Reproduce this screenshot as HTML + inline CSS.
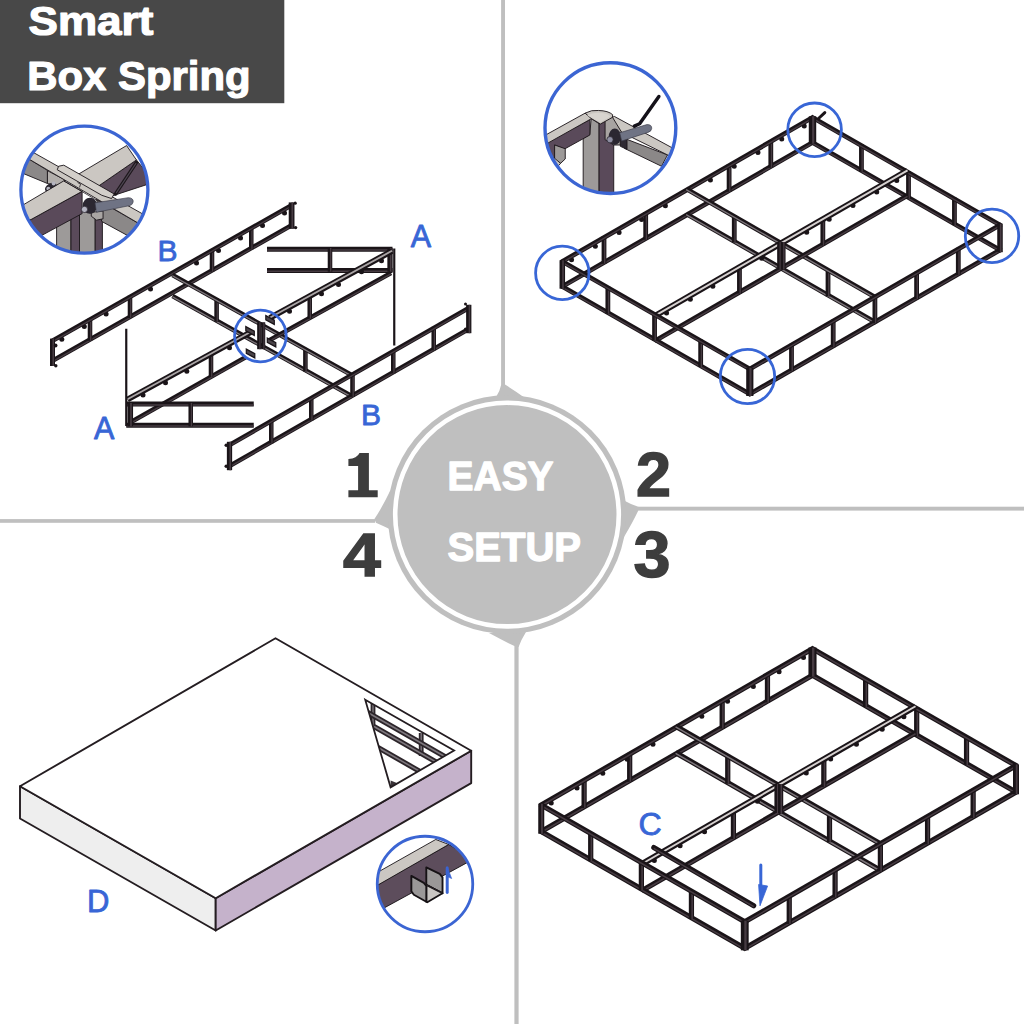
<!DOCTYPE html>
<html><head><meta charset="utf-8"><title>Smart Box Spring - Easy Setup</title>
<style>
html,body{margin:0;padding:0;background:#fff;}
body{width:1024px;height:1024px;overflow:hidden;font-family:"Liberation Sans",sans-serif;}
svg{display:block;}
</style></head><body>
<svg width="1024" height="1024" viewBox="0 0 1024 1024" font-family="'Liberation Sans', sans-serif">
<rect width="1024" height="1024" fill="#fff"/>
<g fill="#bfbfbf">
<rect x="501.1" y="0" width="3.9" height="386"/>
<rect x="638" y="506.7" width="386" height="3.9"/>
<rect x="514.4" y="646" width="4.2" height="378"/>
<rect x="0" y="519.1" width="375" height="3.7"/>
<path d="M501.1 385 Q500 391 496 397 L525 398 Q514 390 505 384.6 Z"/>
<path d="M638.3 506.7 Q631 504.5 625 501 L624 537 Q633 522 638.3 510.6 Z"/>
<path d="M514.4 646.1 Q502 640 489 633 L526 632 Q521 640 518.6 646.9 Z"/>
<path d="M374.4 519.1 Q383 506 390.5 490 L389.5 529 Q382 525.5 375.9 522.8 Z"/>
<circle cx="507" cy="514.6" r="119.3"/>
</g>
<circle cx="507" cy="514.6" r="111.8" fill="none" stroke="#fff" stroke-width="4.6"/>
<g fill="#fff" stroke="#fff" stroke-width="1.3" stroke-linejoin="round" font-weight="700" font-size="40.5">
<text x="447.6" y="489.8" textLength="106" lengthAdjust="spacingAndGlyphs">EASY</text>
<text x="447.5" y="561.3" textLength="133.6" lengthAdjust="spacingAndGlyphs">SETUP</text>
</g>
<rect x="0" y="0" width="284.3" height="103.2" fill="#484848"/>
<g fill="#fff" stroke="#fff" stroke-width="1.2" stroke-linejoin="round" font-weight="700" font-size="40.2">
<text x="28.6" y="35.3" font-size="41" textLength="124.8" lengthAdjust="spacingAndGlyphs">Smart</text>
<text x="27.2" y="89.5" font-size="41" textLength="223.4" lengthAdjust="spacingAndGlyphs">Box Spring</text>
</g>
<g fill="#3d3d3d" stroke="#3d3d3d" stroke-width="1.4" stroke-linejoin="miter" font-weight="700" font-size="61">
<text x="636.0" y="496.2" font-size="63" textLength="35" lengthAdjust="spacingAndGlyphs">2</text>
<text x="633.6" y="577.2" font-size="64" textLength="37" lengthAdjust="spacingAndGlyphs">3</text>
<text x="342.9" y="576.3" textLength="37.8" lengthAdjust="spacingAndGlyphs">4</text>
</g>
<path fill="#3d3d3d" d="M348.4 490.2 H358.1 V466 H348.4 V459 Q357 458.5 359.5 452.9 H368.9 V490.2 H377.7 V497.3 H348.4 Z"/>
<g id="f2">
<line x1="561" y1="287.25" x2="813.8" y2="141.75" stroke="#1a1418" stroke-width="4.8" stroke-linecap="butt"/>
<line x1="561" y1="288.05" x2="813.8" y2="142.55" stroke="#463b42" stroke-width="1.44" stroke-linecap="butt"/>
<line x1="604" y1="236.3" x2="604" y2="263.7" stroke="#1a1418" stroke-width="4.8" stroke-linecap="butt"/>
<line x1="604.7" y1="236.3" x2="604.7" y2="263.7" stroke="#463b42" stroke-width="1.44" stroke-linecap="butt"/>
<line x1="645.7" y1="212.3" x2="645.7" y2="239.7" stroke="#1a1418" stroke-width="4.8" stroke-linecap="butt"/>
<line x1="646.4" y1="212.3" x2="646.4" y2="239.7" stroke="#463b42" stroke-width="1.44" stroke-linecap="butt"/>
<line x1="729.1" y1="164.3" x2="729.1" y2="191.7" stroke="#1a1418" stroke-width="4.8" stroke-linecap="butt"/>
<line x1="729.8" y1="164.3" x2="729.8" y2="191.7" stroke="#463b42" stroke-width="1.44" stroke-linecap="butt"/>
<line x1="770.8" y1="140.3" x2="770.8" y2="167.7" stroke="#1a1418" stroke-width="4.8" stroke-linecap="butt"/>
<line x1="771.5" y1="140.3" x2="771.5" y2="167.7" stroke="#463b42" stroke-width="1.44" stroke-linecap="butt"/>
<circle cx="571.56" cy="259.86" r="2.5" fill="#1a1418"/>
<circle cx="595.33" cy="246.18" r="2.5" fill="#1a1418"/>
<circle cx="619.09" cy="232.5" r="2.5" fill="#1a1418"/>
<circle cx="641.61" cy="219.54" r="2.5" fill="#1a1418"/>
<circle cx="665.38" cy="205.86" r="2.5" fill="#1a1418"/>
<circle cx="710.42" cy="179.94" r="2.5" fill="#1a1418"/>
<circle cx="734.19" cy="166.26" r="2.5" fill="#1a1418"/>
<circle cx="757.96" cy="152.58" r="2.5" fill="#1a1418"/>
<circle cx="781.73" cy="138.9" r="2.5" fill="#1a1418"/>
<circle cx="804.24" cy="125.94" r="2.5" fill="#1a1418"/>
<line x1="561" y1="262.25" x2="813.8" y2="116.75" stroke="#1a1418" stroke-width="4.8" stroke-linecap="butt"/>
<line x1="561" y1="263.05" x2="813.8" y2="117.55" stroke="#463b42" stroke-width="1.44" stroke-linecap="butt"/>
<line x1="811.2" y1="141.75" x2="1001.3" y2="250.75" stroke="#1a1418" stroke-width="4.8" stroke-linecap="butt"/>
<line x1="811.2" y1="142.55" x2="1001.3" y2="251.55" stroke="#463b42" stroke-width="1.44" stroke-linecap="butt"/>
<line x1="861.44" y1="144.36" x2="861.44" y2="171.76" stroke="#1a1418" stroke-width="4.8" stroke-linecap="butt"/>
<line x1="862.14" y1="144.36" x2="862.14" y2="171.76" stroke="#463b42" stroke-width="1.44" stroke-linecap="butt"/>
<line x1="908.5" y1="171.34" x2="908.5" y2="198.74" stroke="#1a1418" stroke-width="4.8" stroke-linecap="butt"/>
<line x1="909.2" y1="171.34" x2="909.2" y2="198.74" stroke="#463b42" stroke-width="1.44" stroke-linecap="butt"/>
<line x1="954.44" y1="197.68" x2="954.44" y2="225.08" stroke="#1a1418" stroke-width="4.8" stroke-linecap="butt"/>
<line x1="955.14" y1="197.68" x2="955.14" y2="225.08" stroke="#463b42" stroke-width="1.44" stroke-linecap="butt"/>
<line x1="811.2" y1="116.75" x2="1001.3" y2="225.75" stroke="#1a1418" stroke-width="4.8" stroke-linecap="butt"/>
<line x1="811.2" y1="117.55" x2="1001.3" y2="226.55" stroke="#463b42" stroke-width="1.44" stroke-linecap="butt"/>
<line x1="686.1" y1="213.75" x2="876.2" y2="322.75" stroke="#1a1418" stroke-width="4.8" stroke-linecap="butt"/>
<line x1="686.1" y1="214.55" x2="876.2" y2="323.55" stroke="#7b7479" stroke-width="1.44" stroke-linecap="butt"/>
<line x1="734.27" y1="215.18" x2="734.27" y2="242.57" stroke="#1a1418" stroke-width="4.8" stroke-linecap="butt"/>
<line x1="734.98" y1="215.18" x2="734.98" y2="242.57" stroke="#463b42" stroke-width="1.44" stroke-linecap="butt"/>
<line x1="828.02" y1="268.93" x2="828.02" y2="296.32" stroke="#1a1418" stroke-width="4.8" stroke-linecap="butt"/>
<line x1="828.73" y1="268.93" x2="828.73" y2="296.32" stroke="#463b42" stroke-width="1.44" stroke-linecap="butt"/>
<line x1="686.1" y1="188.75" x2="876.2" y2="297.75" stroke="#1a1418" stroke-width="4.8" stroke-linecap="butt"/>
<line x1="686.1" y1="189.55" x2="876.2" y2="298.55" stroke="#7b7479" stroke-width="1.44" stroke-linecap="butt"/>
<line x1="654.75" y1="341" x2="907.55" y2="195.5" stroke="#1a1418" stroke-width="4.8" stroke-linecap="butt"/>
<line x1="654.75" y1="341.8" x2="907.55" y2="196.3" stroke="#463b42" stroke-width="1.44" stroke-linecap="butt"/>
<line x1="739.45" y1="266.05" x2="739.45" y2="293.45" stroke="#1a1418" stroke-width="4.8" stroke-linecap="butt"/>
<line x1="740.15" y1="266.05" x2="740.15" y2="293.45" stroke="#463b42" stroke-width="1.44" stroke-linecap="butt"/>
<line x1="822.85" y1="218.05" x2="822.85" y2="245.45" stroke="#1a1418" stroke-width="4.8" stroke-linecap="butt"/>
<line x1="823.55" y1="218.05" x2="823.55" y2="245.45" stroke="#463b42" stroke-width="1.44" stroke-linecap="butt"/>
<circle cx="666.56" cy="312.89" r="2.5" fill="#1a1418"/>
<circle cx="690.33" cy="299.21" r="2.5" fill="#1a1418"/>
<circle cx="712.84" cy="286.25" r="2.5" fill="#1a1418"/>
<circle cx="761.63" cy="258.17" r="2.5" fill="#1a1418"/>
<circle cx="806.67" cy="232.25" r="2.5" fill="#1a1418"/>
<circle cx="829.19" cy="219.29" r="2.5" fill="#1a1418"/>
<circle cx="852.96" cy="205.61" r="2.5" fill="#1a1418"/>
<circle cx="876.73" cy="191.93" r="2.5" fill="#1a1418"/>
<circle cx="896.74" cy="180.41" r="2.5" fill="#1a1418"/>
<line x1="654.75" y1="316" x2="907.55" y2="170.5" stroke="#1a1418" stroke-width="6.05" stroke-linecap="butt"/>
<line x1="654.75" y1="315.8" x2="907.55" y2="170.3" stroke="#d6d1d0" stroke-width="1.94" stroke-linecap="butt"/>
<line x1="779.55" y1="242.05" x2="779.55" y2="269.45" stroke="#1a1418" stroke-width="4.8" stroke-linecap="butt"/>
<line x1="780.25" y1="242.05" x2="780.25" y2="269.45" stroke="#463b42" stroke-width="1.44" stroke-linecap="butt"/>
<line x1="783.15" y1="242.05" x2="783.15" y2="269.45" stroke="#1a1418" stroke-width="4.8" stroke-linecap="butt"/>
<line x1="783.85" y1="242.05" x2="783.85" y2="269.45" stroke="#463b42" stroke-width="1.44" stroke-linecap="butt"/>
<line x1="561" y1="285.75" x2="751.1" y2="394.75" stroke="#1a1418" stroke-width="4.8" stroke-linecap="butt"/>
<line x1="561" y1="286.55" x2="751.1" y2="395.55" stroke="#463b42" stroke-width="1.44" stroke-linecap="butt"/>
<line x1="607.86" y1="286.42" x2="607.86" y2="313.82" stroke="#1a1418" stroke-width="4.8" stroke-linecap="butt"/>
<line x1="608.56" y1="286.42" x2="608.56" y2="313.82" stroke="#463b42" stroke-width="1.44" stroke-linecap="butt"/>
<line x1="654.55" y1="313.19" x2="654.55" y2="340.59" stroke="#1a1418" stroke-width="4.8" stroke-linecap="butt"/>
<line x1="655.25" y1="313.19" x2="655.25" y2="340.59" stroke="#463b42" stroke-width="1.44" stroke-linecap="butt"/>
<line x1="700.67" y1="339.63" x2="700.67" y2="367.03" stroke="#1a1418" stroke-width="4.8" stroke-linecap="butt"/>
<line x1="701.38" y1="339.63" x2="701.38" y2="367.03" stroke="#463b42" stroke-width="1.44" stroke-linecap="butt"/>
<line x1="561" y1="260.75" x2="751.1" y2="369.75" stroke="#1a1418" stroke-width="4.8" stroke-linecap="butt"/>
<line x1="561" y1="261.55" x2="751.1" y2="370.55" stroke="#463b42" stroke-width="1.44" stroke-linecap="butt"/>
<line x1="748.5" y1="394.75" x2="1001.3" y2="249.25" stroke="#1a1418" stroke-width="4.8" stroke-linecap="butt"/>
<line x1="748.5" y1="395.55" x2="1001.3" y2="250.05" stroke="#463b42" stroke-width="1.44" stroke-linecap="butt"/>
<line x1="791.5" y1="343.8" x2="791.5" y2="371.2" stroke="#1a1418" stroke-width="4.8" stroke-linecap="butt"/>
<line x1="792.2" y1="343.8" x2="792.2" y2="371.2" stroke="#463b42" stroke-width="1.44" stroke-linecap="butt"/>
<line x1="833.2" y1="319.8" x2="833.2" y2="347.2" stroke="#1a1418" stroke-width="4.8" stroke-linecap="butt"/>
<line x1="833.9" y1="319.8" x2="833.9" y2="347.2" stroke="#463b42" stroke-width="1.44" stroke-linecap="butt"/>
<line x1="874.9" y1="295.8" x2="874.9" y2="323.2" stroke="#1a1418" stroke-width="4.8" stroke-linecap="butt"/>
<line x1="875.6" y1="295.8" x2="875.6" y2="323.2" stroke="#463b42" stroke-width="1.44" stroke-linecap="butt"/>
<line x1="916.6" y1="271.8" x2="916.6" y2="299.2" stroke="#1a1418" stroke-width="4.8" stroke-linecap="butt"/>
<line x1="917.3" y1="271.8" x2="917.3" y2="299.2" stroke="#463b42" stroke-width="1.44" stroke-linecap="butt"/>
<line x1="958.3" y1="247.8" x2="958.3" y2="275.2" stroke="#1a1418" stroke-width="4.8" stroke-linecap="butt"/>
<line x1="959" y1="247.8" x2="959" y2="275.2" stroke="#463b42" stroke-width="1.44" stroke-linecap="butt"/>
<line x1="748.5" y1="369.75" x2="1001.3" y2="224.25" stroke="#1a1418" stroke-width="4.8" stroke-linecap="butt"/>
<line x1="748.5" y1="370.55" x2="1001.3" y2="225.05" stroke="#463b42" stroke-width="1.44" stroke-linecap="butt"/>
<line x1="562.3" y1="260.3" x2="562.3" y2="288.7" stroke="#1a1418" stroke-width="5.52" stroke-linecap="butt"/>
<line x1="563" y1="260.3" x2="563" y2="288.7" stroke="#463b42" stroke-width="1.66" stroke-linecap="butt"/>
<line x1="812.5" y1="116.3" x2="812.5" y2="143.7" stroke="#1a1418" stroke-width="7.44" stroke-linecap="butt"/>
<line x1="813.2" y1="116.3" x2="813.2" y2="143.7" stroke="#463b42" stroke-width="2.23" stroke-linecap="butt"/>
<line x1="1000" y1="223.8" x2="1000" y2="252.2" stroke="#1a1418" stroke-width="5.52" stroke-linecap="butt"/>
<line x1="1000.7" y1="223.8" x2="1000.7" y2="252.2" stroke="#463b42" stroke-width="1.66" stroke-linecap="butt"/>
<line x1="749.8" y1="367.8" x2="749.8" y2="396" stroke="#1a1418" stroke-width="7.2" stroke-linecap="butt"/>
<line x1="750.5" y1="367.8" x2="750.5" y2="396" stroke="#463b42" stroke-width="2.16" stroke-linecap="butt"/>
<line x1="818.5" y1="118.5" x2="824.8" y2="112.6" stroke="#1a1418" stroke-width="3" stroke-linecap="round"/>
</g>
<circle cx="562.3" cy="272.9" r="26.7" fill="none" stroke="#3866d6" stroke-width="2.8"/>
<circle cx="814.6" cy="129.8" r="26.8" fill="none" stroke="#3866d6" stroke-width="2.8"/>
<circle cx="992" cy="235.9" r="26.7" fill="none" stroke="#3866d6" stroke-width="2.8"/>
<circle cx="747.5" cy="376.5" r="27.2" fill="none" stroke="#3866d6" stroke-width="2.8"/>
<g id="f3">
<line x1="539.95" y1="832.25" x2="813.8" y2="674.5" stroke="#1a1418" stroke-width="5.23" stroke-linecap="butt"/>
<line x1="539.95" y1="833.05" x2="813.8" y2="675.3" stroke="#463b42" stroke-width="1.57" stroke-linecap="butt"/>
<line x1="584.11" y1="779.11" x2="584.11" y2="808.01" stroke="#1a1418" stroke-width="5.23" stroke-linecap="butt"/>
<line x1="584.81" y1="779.11" x2="584.81" y2="808.01" stroke="#463b42" stroke-width="1.57" stroke-linecap="butt"/>
<line x1="629.68" y1="752.86" x2="629.68" y2="781.76" stroke="#1a1418" stroke-width="5.23" stroke-linecap="butt"/>
<line x1="630.38" y1="752.86" x2="630.38" y2="781.76" stroke="#463b42" stroke-width="1.57" stroke-linecap="butt"/>
<line x1="722.17" y1="699.58" x2="722.17" y2="728.48" stroke="#1a1418" stroke-width="5.23" stroke-linecap="butt"/>
<line x1="722.87" y1="699.58" x2="722.87" y2="728.48" stroke="#463b42" stroke-width="1.57" stroke-linecap="butt"/>
<line x1="767.47" y1="673.49" x2="767.47" y2="702.39" stroke="#1a1418" stroke-width="5.23" stroke-linecap="butt"/>
<line x1="768.17" y1="673.49" x2="768.17" y2="702.39" stroke="#463b42" stroke-width="1.57" stroke-linecap="butt"/>
<circle cx="551.24" cy="802.93" r="2.5" fill="#1a1418"/>
<circle cx="577.01" cy="788.09" r="2.5" fill="#1a1418"/>
<circle cx="602.78" cy="773.24" r="2.5" fill="#1a1418"/>
<circle cx="627.19" cy="759.18" r="2.5" fill="#1a1418"/>
<circle cx="652.96" cy="744.34" r="2.5" fill="#1a1418"/>
<circle cx="701.79" cy="716.21" r="2.5" fill="#1a1418"/>
<circle cx="727.56" cy="701.37" r="2.5" fill="#1a1418"/>
<circle cx="753.33" cy="686.52" r="2.5" fill="#1a1418"/>
<circle cx="779.09" cy="671.68" r="2.5" fill="#1a1418"/>
<circle cx="803.51" cy="657.62" r="2.5" fill="#1a1418"/>
<line x1="539.95" y1="805.75" x2="813.8" y2="648" stroke="#1a1418" stroke-width="5.23" stroke-linecap="butt"/>
<line x1="539.95" y1="806.55" x2="813.8" y2="648.8" stroke="#463b42" stroke-width="1.57" stroke-linecap="butt"/>
<line x1="811.2" y1="674.5" x2="1017.3" y2="792.85" stroke="#1a1418" stroke-width="5.23" stroke-linecap="butt"/>
<line x1="811.2" y1="675.3" x2="1017.3" y2="793.65" stroke="#463b42" stroke-width="1.57" stroke-linecap="butt"/>
<line x1="865.61" y1="678.05" x2="865.61" y2="706.95" stroke="#1a1418" stroke-width="5.23" stroke-linecap="butt"/>
<line x1="866.31" y1="678.05" x2="866.31" y2="706.95" stroke="#463b42" stroke-width="1.57" stroke-linecap="butt"/>
<line x1="916.69" y1="707.38" x2="916.69" y2="736.28" stroke="#1a1418" stroke-width="5.23" stroke-linecap="butt"/>
<line x1="917.39" y1="707.38" x2="917.39" y2="736.28" stroke="#463b42" stroke-width="1.57" stroke-linecap="butt"/>
<line x1="966.55" y1="736.01" x2="966.55" y2="764.91" stroke="#1a1418" stroke-width="5.23" stroke-linecap="butt"/>
<line x1="967.25" y1="736.01" x2="967.25" y2="764.91" stroke="#463b42" stroke-width="1.57" stroke-linecap="butt"/>
<line x1="811.2" y1="648" x2="1017.3" y2="766.35" stroke="#1a1418" stroke-width="5.23" stroke-linecap="butt"/>
<line x1="811.2" y1="648.8" x2="1017.3" y2="767.15" stroke="#463b42" stroke-width="1.57" stroke-linecap="butt"/>
<line x1="675.57" y1="752.63" x2="881.68" y2="870.97" stroke="#1a1418" stroke-width="5.23" stroke-linecap="butt"/>
<line x1="675.57" y1="753.43" x2="881.68" y2="871.77" stroke="#7b7479" stroke-width="1.57" stroke-linecap="butt"/>
<line x1="727.75" y1="754.89" x2="727.75" y2="783.79" stroke="#1a1418" stroke-width="5.23" stroke-linecap="butt"/>
<line x1="728.45" y1="754.89" x2="728.45" y2="783.79" stroke="#463b42" stroke-width="1.57" stroke-linecap="butt"/>
<line x1="829.5" y1="813.31" x2="829.5" y2="842.21" stroke="#1a1418" stroke-width="5.23" stroke-linecap="butt"/>
<line x1="830.2" y1="813.31" x2="830.2" y2="842.21" stroke="#463b42" stroke-width="1.57" stroke-linecap="butt"/>
<line x1="675.57" y1="726.13" x2="881.68" y2="844.47" stroke="#1a1418" stroke-width="5.23" stroke-linecap="butt"/>
<line x1="675.57" y1="726.93" x2="881.68" y2="845.27" stroke="#7b7479" stroke-width="1.57" stroke-linecap="butt"/>
<line x1="641.7" y1="890.67" x2="915.55" y2="732.93" stroke="#1a1418" stroke-width="5.23" stroke-linecap="butt"/>
<line x1="641.7" y1="891.47" x2="915.55" y2="733.73" stroke="#463b42" stroke-width="1.57" stroke-linecap="butt"/>
<line x1="733.42" y1="810.14" x2="733.42" y2="839.04" stroke="#1a1418" stroke-width="5.23" stroke-linecap="butt"/>
<line x1="734.12" y1="810.14" x2="734.12" y2="839.04" stroke="#463b42" stroke-width="1.57" stroke-linecap="butt"/>
<line x1="823.83" y1="758.06" x2="823.83" y2="786.96" stroke="#1a1418" stroke-width="5.23" stroke-linecap="butt"/>
<line x1="824.53" y1="758.06" x2="824.53" y2="786.96" stroke="#463b42" stroke-width="1.57" stroke-linecap="butt"/>
<circle cx="654.35" cy="860.57" r="2.5" fill="#1a1418"/>
<circle cx="680.12" cy="845.73" r="2.5" fill="#1a1418"/>
<circle cx="704.53" cy="831.67" r="2.5" fill="#1a1418"/>
<circle cx="757.42" cy="801.2" r="2.5" fill="#1a1418"/>
<circle cx="806.25" cy="773.07" r="2.5" fill="#1a1418"/>
<circle cx="830.66" cy="759.01" r="2.5" fill="#1a1418"/>
<circle cx="856.43" cy="744.17" r="2.5" fill="#1a1418"/>
<circle cx="882.2" cy="729.32" r="2.5" fill="#1a1418"/>
<circle cx="903.9" cy="716.82" r="2.5" fill="#1a1418"/>
<line x1="641.7" y1="864.17" x2="915.55" y2="706.43" stroke="#1a1418" stroke-width="6.05" stroke-linecap="butt"/>
<line x1="641.7" y1="863.97" x2="915.55" y2="706.23" stroke="#d6d1d0" stroke-width="1.94" stroke-linecap="butt"/>
<line x1="777.02" y1="784.1" x2="777.02" y2="813" stroke="#1a1418" stroke-width="5.23" stroke-linecap="butt"/>
<line x1="777.73" y1="784.1" x2="777.73" y2="813" stroke="#463b42" stroke-width="1.57" stroke-linecap="butt"/>
<line x1="780.62" y1="784.1" x2="780.62" y2="813" stroke="#1a1418" stroke-width="5.23" stroke-linecap="butt"/>
<line x1="781.33" y1="784.1" x2="781.33" y2="813" stroke="#463b42" stroke-width="1.57" stroke-linecap="butt"/>
<line x1="539.95" y1="830.75" x2="746.05" y2="949.1" stroke="#1a1418" stroke-width="5.23" stroke-linecap="butt"/>
<line x1="539.95" y1="831.55" x2="746.05" y2="949.9" stroke="#463b42" stroke-width="1.57" stroke-linecap="butt"/>
<line x1="590.7" y1="832.19" x2="590.7" y2="861.09" stroke="#1a1418" stroke-width="5.23" stroke-linecap="butt"/>
<line x1="591.4" y1="832.19" x2="591.4" y2="861.09" stroke="#463b42" stroke-width="1.57" stroke-linecap="butt"/>
<line x1="641.37" y1="861.29" x2="641.37" y2="890.19" stroke="#1a1418" stroke-width="5.23" stroke-linecap="butt"/>
<line x1="642.07" y1="861.29" x2="642.07" y2="890.19" stroke="#463b42" stroke-width="1.57" stroke-linecap="butt"/>
<line x1="691.43" y1="890.04" x2="691.43" y2="918.94" stroke="#1a1418" stroke-width="5.23" stroke-linecap="butt"/>
<line x1="692.13" y1="890.04" x2="692.13" y2="918.94" stroke="#463b42" stroke-width="1.57" stroke-linecap="butt"/>
<line x1="539.95" y1="804.25" x2="746.05" y2="922.6" stroke="#1a1418" stroke-width="5.23" stroke-linecap="butt"/>
<line x1="539.95" y1="805.05" x2="746.05" y2="923.4" stroke="#463b42" stroke-width="1.57" stroke-linecap="butt"/>
<line x1="743.45" y1="949.1" x2="1017.3" y2="791.35" stroke="#1a1418" stroke-width="5.23" stroke-linecap="butt"/>
<line x1="743.45" y1="949.9" x2="1017.3" y2="792.15" stroke="#463b42" stroke-width="1.57" stroke-linecap="butt"/>
<line x1="789.24" y1="895.02" x2="789.24" y2="923.93" stroke="#1a1418" stroke-width="5.23" stroke-linecap="butt"/>
<line x1="789.94" y1="895.02" x2="789.94" y2="923.93" stroke="#463b42" stroke-width="1.57" stroke-linecap="butt"/>
<line x1="835.08" y1="868.62" x2="835.08" y2="897.52" stroke="#1a1418" stroke-width="5.23" stroke-linecap="butt"/>
<line x1="835.78" y1="868.62" x2="835.78" y2="897.52" stroke="#463b42" stroke-width="1.57" stroke-linecap="butt"/>
<line x1="880.38" y1="842.52" x2="880.38" y2="871.43" stroke="#1a1418" stroke-width="5.23" stroke-linecap="butt"/>
<line x1="881.08" y1="842.52" x2="881.08" y2="871.43" stroke="#463b42" stroke-width="1.57" stroke-linecap="butt"/>
<line x1="927.57" y1="815.34" x2="927.57" y2="844.24" stroke="#1a1418" stroke-width="5.23" stroke-linecap="butt"/>
<line x1="928.27" y1="815.34" x2="928.27" y2="844.24" stroke="#463b42" stroke-width="1.57" stroke-linecap="butt"/>
<line x1="973.14" y1="789.09" x2="973.14" y2="817.99" stroke="#1a1418" stroke-width="5.23" stroke-linecap="butt"/>
<line x1="973.84" y1="789.09" x2="973.84" y2="817.99" stroke="#463b42" stroke-width="1.57" stroke-linecap="butt"/>
<line x1="743.45" y1="922.6" x2="1017.3" y2="764.85" stroke="#1a1418" stroke-width="5.23" stroke-linecap="butt"/>
<line x1="743.45" y1="923.4" x2="1017.3" y2="765.65" stroke="#463b42" stroke-width="1.57" stroke-linecap="butt"/>
<line x1="541.25" y1="803.8" x2="541.25" y2="833.7" stroke="#1a1418" stroke-width="6.02" stroke-linecap="butt"/>
<line x1="541.95" y1="803.8" x2="541.95" y2="833.7" stroke="#463b42" stroke-width="1.81" stroke-linecap="butt"/>
<line x1="812.5" y1="647.55" x2="812.5" y2="676.45" stroke="#1a1418" stroke-width="8.11" stroke-linecap="butt"/>
<line x1="813.2" y1="647.55" x2="813.2" y2="676.45" stroke="#463b42" stroke-width="2.43" stroke-linecap="butt"/>
<line x1="1016" y1="764.4" x2="1016" y2="794.3" stroke="#1a1418" stroke-width="6.02" stroke-linecap="butt"/>
<line x1="1016.7" y1="764.4" x2="1016.7" y2="794.3" stroke="#463b42" stroke-width="1.81" stroke-linecap="butt"/>
<line x1="744.75" y1="920.65" x2="744.75" y2="950.35" stroke="#1a1418" stroke-width="7.85" stroke-linecap="butt"/>
<line x1="745.45" y1="920.65" x2="745.45" y2="950.35" stroke="#463b42" stroke-width="2.35" stroke-linecap="butt"/>
<line x1="653.75" y1="847.5" x2="753.75" y2="905.75" stroke="#1a1418" stroke-width="5.04" stroke-linecap="round"/>
<line x1="653.75" y1="848.3" x2="753.75" y2="906.55" stroke="#463b42" stroke-width="1.51" stroke-linecap="butt"/>
</g>
<path d="M760.8 865 V889" stroke="#3866d6" stroke-width="3.0" fill="none" stroke-linecap="round"/>
<path d="M758.6 884.5 L767.6 886 L760 905.8 Z" fill="#3866d6" stroke="#3866d6" stroke-width="0.8" stroke-linejoin="round"/>
<text x="650" y="835.4" font-size="32.2" fill="#3866d6" stroke="#3866d6" stroke-width="0.8" stroke-linejoin="round" text-anchor="middle">C</text>
<g id="f1">
<line x1="52.5" y1="360.8" x2="292.5" y2="224.8" stroke="#1a1418" stroke-width="4.56" stroke-linecap="butt"/>
<line x1="52.5" y1="361.6" x2="292.5" y2="225.6" stroke="#463b42" stroke-width="1.37" stroke-linecap="butt"/>
<line x1="90" y1="318.35" x2="90" y2="340.75" stroke="#1a1418" stroke-width="4.56" stroke-linecap="butt"/>
<line x1="90.7" y1="318.35" x2="90.7" y2="340.75" stroke="#463b42" stroke-width="1.37" stroke-linecap="butt"/>
<line x1="130" y1="295.68" x2="130" y2="318.08" stroke="#1a1418" stroke-width="4.56" stroke-linecap="butt"/>
<line x1="130.7" y1="295.68" x2="130.7" y2="318.08" stroke="#463b42" stroke-width="1.37" stroke-linecap="butt"/>
<line x1="212" y1="249.22" x2="212" y2="271.62" stroke="#1a1418" stroke-width="4.56" stroke-linecap="butt"/>
<line x1="212.7" y1="249.22" x2="212.7" y2="271.62" stroke="#463b42" stroke-width="1.37" stroke-linecap="butt"/>
<line x1="251.25" y1="226.98" x2="251.25" y2="249.38" stroke="#1a1418" stroke-width="4.56" stroke-linecap="butt"/>
<line x1="251.95" y1="226.98" x2="251.95" y2="249.38" stroke="#463b42" stroke-width="1.37" stroke-linecap="butt"/>
<circle cx="61.8" cy="339.21" r="2.5" fill="#1a1418"/>
<circle cx="84.3" cy="326.46" r="2.5" fill="#1a1418"/>
<circle cx="106.1" cy="314.11" r="2.5" fill="#1a1418"/>
<circle cx="150.5" cy="288.95" r="2.5" fill="#1a1418"/>
<circle cx="196.5" cy="262.88" r="2.5" fill="#1a1418"/>
<circle cx="218.5" cy="250.42" r="2.5" fill="#1a1418"/>
<circle cx="240.5" cy="237.95" r="2.5" fill="#1a1418"/>
<circle cx="262.5" cy="225.48" r="2.5" fill="#1a1418"/>
<circle cx="284.5" cy="213.02" r="2.5" fill="#1a1418"/>
<line x1="52.5" y1="340.8" x2="292.5" y2="204.8" stroke="#1a1418" stroke-width="4.56" stroke-linecap="butt"/>
<line x1="52.5" y1="341.6" x2="292.5" y2="205.6" stroke="#463b42" stroke-width="1.37" stroke-linecap="butt"/>
<line x1="52.5" y1="338.6" x2="52.5" y2="366" stroke="#1a1418" stroke-width="5.04" stroke-linecap="butt"/>
<line x1="53.2" y1="338.6" x2="53.2" y2="366" stroke="#463b42" stroke-width="1.51" stroke-linecap="butt"/>
<line x1="291.6" y1="202.4" x2="291.6" y2="228.8" stroke="#1a1418" stroke-width="5.76" stroke-linecap="butt"/>
<line x1="292.3" y1="202.4" x2="292.3" y2="228.8" stroke="#463b42" stroke-width="1.73" stroke-linecap="butt"/>
<circle cx="55.8" cy="365.8" r="1.7" fill="#1a1418"/>
<circle cx="295.6" cy="227.6" r="1.7" fill="#1a1418"/>
<circle cx="295.2" cy="203.2" r="1.6" fill="#1a1418"/>
<circle cx="55.6" cy="345.5" r="1.9" fill="#1a1418"/>
<line x1="267" y1="249.25" x2="392.5" y2="249.25" stroke="#1a1418" stroke-width="5.04" stroke-linecap="butt"/>
<line x1="267" y1="250.05" x2="392.5" y2="250.05" stroke="#463b42" stroke-width="1.51" stroke-linecap="butt"/>
<line x1="267" y1="270.5" x2="392.5" y2="270.5" stroke="#1a1418" stroke-width="5.04" stroke-linecap="butt"/>
<line x1="267" y1="271.3" x2="392.5" y2="271.3" stroke="#463b42" stroke-width="1.51" stroke-linecap="butt"/>
<line x1="330" y1="248.05" x2="330" y2="271.7" stroke="#1a1418" stroke-width="4.56" stroke-linecap="butt"/>
<line x1="330.7" y1="248.05" x2="330.7" y2="271.7" stroke="#463b42" stroke-width="1.37" stroke-linecap="butt"/>
<line x1="390" y1="248.05" x2="390" y2="271.7" stroke="#1a1418" stroke-width="5.28" stroke-linecap="butt"/>
<line x1="390.7" y1="248.05" x2="390.7" y2="271.7" stroke="#463b42" stroke-width="1.58" stroke-linecap="butt"/>
<line x1="394.25" y1="248.5" x2="394.25" y2="345.5" stroke="#1a1418" stroke-width="2.2" stroke-linecap="butt"/>
<line x1="172.5" y1="296" x2="352.5" y2="396.5" stroke="#1a1418" stroke-width="4.56" stroke-linecap="butt"/>
<line x1="172.5" y1="296.8" x2="352.5" y2="397.3" stroke="#7b7479" stroke-width="1.37" stroke-linecap="butt"/>
<line x1="216.6" y1="298.42" x2="216.6" y2="321.82" stroke="#1a1418" stroke-width="4.56" stroke-linecap="butt"/>
<line x1="217.3" y1="298.42" x2="217.3" y2="321.82" stroke="#463b42" stroke-width="1.37" stroke-linecap="butt"/>
<line x1="305.4" y1="348" x2="305.4" y2="371.4" stroke="#1a1418" stroke-width="4.56" stroke-linecap="butt"/>
<line x1="306.1" y1="348" x2="306.1" y2="371.4" stroke="#463b42" stroke-width="1.37" stroke-linecap="butt"/>
<line x1="172.5" y1="275" x2="352.5" y2="375.5" stroke="#1a1418" stroke-width="4.56" stroke-linecap="butt"/>
<line x1="172.5" y1="275.8" x2="352.5" y2="376.3" stroke="#7b7479" stroke-width="1.37" stroke-linecap="butt"/>
<line x1="131" y1="422" x2="246" y2="357" stroke="#1a1418" stroke-width="4.56" stroke-linecap="butt"/>
<line x1="131" y1="422.8" x2="246" y2="357.8" stroke="#463b42" stroke-width="1.37" stroke-linecap="butt"/>
<line x1="211" y1="353.3" x2="211" y2="376.7" stroke="#1a1418" stroke-width="4.56" stroke-linecap="butt"/>
<line x1="211.7" y1="353.3" x2="211.7" y2="376.7" stroke="#463b42" stroke-width="1.37" stroke-linecap="butt"/>
<circle cx="143" cy="395.1" r="2.5" fill="#1a1418"/>
<circle cx="165.5" cy="382.8" r="2.5" fill="#1a1418"/>
<circle cx="186.8" cy="371.16" r="2.5" fill="#1a1418"/>
<circle cx="229.5" cy="347.82" r="2.5" fill="#1a1418"/>
<line x1="127.5" y1="399.5" x2="251" y2="332" stroke="#1a1418" stroke-width="5.82" stroke-linecap="butt"/>
<line x1="127.5" y1="399.3" x2="251" y2="331.8" stroke="#aaa5a6" stroke-width="1.86" stroke-linecap="butt"/>
<line x1="268" y1="341" x2="391" y2="273" stroke="#1a1418" stroke-width="4.56" stroke-linecap="butt"/>
<line x1="268" y1="341.8" x2="391" y2="273.8" stroke="#463b42" stroke-width="1.37" stroke-linecap="butt"/>
<line x1="309.75" y1="296.3" x2="309.75" y2="318.7" stroke="#1a1418" stroke-width="4.56" stroke-linecap="butt"/>
<line x1="310.45" y1="296.3" x2="310.45" y2="318.7" stroke="#463b42" stroke-width="1.37" stroke-linecap="butt"/>
<circle cx="289.5" cy="311.25" r="2.5" fill="#1a1418"/>
<circle cx="321.5" cy="293.72" r="2.5" fill="#1a1418"/>
<circle cx="338.5" cy="284.4" r="2.5" fill="#1a1418"/>
<circle cx="361.5" cy="271.8" r="2.5" fill="#1a1418"/>
<circle cx="381.5" cy="260.83" r="2.5" fill="#1a1418"/>
<line x1="269.75" y1="318" x2="392" y2="251" stroke="#1a1418" stroke-width="5.82" stroke-linecap="butt"/>
<line x1="269.75" y1="317.8" x2="392" y2="250.8" stroke="#aaa5a6" stroke-width="1.86" stroke-linecap="butt"/>
<line x1="259.2" y1="322.3" x2="259.2" y2="349.2" stroke="#1a1418" stroke-width="4.08" stroke-linecap="butt"/>
<line x1="259.9" y1="322.3" x2="259.9" y2="349.2" stroke="#463b42" stroke-width="1.22" stroke-linecap="butt"/>
<line x1="263.2" y1="322.3" x2="263.2" y2="349.2" stroke="#1a1418" stroke-width="4.08" stroke-linecap="butt"/>
<line x1="263.9" y1="322.3" x2="263.9" y2="349.2" stroke="#463b42" stroke-width="1.22" stroke-linecap="butt"/>
<path d="M265.8 315.6 l8.5 4.6 v4.2 l-8.5 -4.6 z" fill="#4a4348" stroke="#1a1418" stroke-width="1.2"/>
<path d="M245.8 326.6 l8.5 4.6 v4.2 l-8.5 -4.6 z" fill="#4a4348" stroke="#1a1418" stroke-width="1.2"/>
<path d="M267.3 338.1 l8.5 4.6 v4.2 l-8.5 -4.6 z" fill="#4a4348" stroke="#1a1418" stroke-width="1.2"/>
<path d="M246.3 349.1 l8.5 4.6 v4.2 l-8.5 -4.6 z" fill="#4a4348" stroke="#1a1418" stroke-width="1.2"/>
<line x1="126.25" y1="404.1" x2="253.75" y2="404.1" stroke="#1a1418" stroke-width="5.04" stroke-linecap="butt"/>
<line x1="126.25" y1="404.9" x2="253.75" y2="404.9" stroke="#463b42" stroke-width="1.51" stroke-linecap="butt"/>
<line x1="126.25" y1="425.2" x2="253.75" y2="425.2" stroke="#1a1418" stroke-width="5.04" stroke-linecap="butt"/>
<line x1="126.25" y1="426" x2="253.75" y2="426" stroke="#463b42" stroke-width="1.51" stroke-linecap="butt"/>
<line x1="190.75" y1="402.9" x2="190.75" y2="426.3" stroke="#1a1418" stroke-width="4.56" stroke-linecap="butt"/>
<line x1="191.45" y1="402.9" x2="191.45" y2="426.3" stroke="#463b42" stroke-width="1.37" stroke-linecap="butt"/>
<line x1="130.3" y1="402.9" x2="130.3" y2="426.3" stroke="#1a1418" stroke-width="5.52" stroke-linecap="butt"/>
<line x1="131" y1="402.9" x2="131" y2="426.3" stroke="#463b42" stroke-width="1.66" stroke-linecap="butt"/>
<line x1="126.25" y1="328.75" x2="126.25" y2="426" stroke="#1a1418" stroke-width="2.2" stroke-linecap="butt"/>
<line x1="229.5" y1="466" x2="468.75" y2="329" stroke="#1a1418" stroke-width="4.56" stroke-linecap="butt"/>
<line x1="229.5" y1="466.8" x2="468.75" y2="329.8" stroke="#463b42" stroke-width="1.37" stroke-linecap="butt"/>
<line x1="271.25" y1="419.89" x2="271.25" y2="443.29" stroke="#1a1418" stroke-width="4.56" stroke-linecap="butt"/>
<line x1="271.95" y1="419.89" x2="271.95" y2="443.29" stroke="#463b42" stroke-width="1.37" stroke-linecap="butt"/>
<line x1="311.25" y1="396.99" x2="311.25" y2="420.39" stroke="#1a1418" stroke-width="4.56" stroke-linecap="butt"/>
<line x1="311.95" y1="396.99" x2="311.95" y2="420.39" stroke="#463b42" stroke-width="1.37" stroke-linecap="butt"/>
<line x1="352.5" y1="373.37" x2="352.5" y2="396.77" stroke="#1a1418" stroke-width="4.56" stroke-linecap="butt"/>
<line x1="353.2" y1="373.37" x2="353.2" y2="396.77" stroke="#463b42" stroke-width="1.37" stroke-linecap="butt"/>
<line x1="393.25" y1="350.03" x2="393.25" y2="373.43" stroke="#1a1418" stroke-width="4.56" stroke-linecap="butt"/>
<line x1="393.95" y1="350.03" x2="393.95" y2="373.43" stroke="#463b42" stroke-width="1.37" stroke-linecap="butt"/>
<line x1="433.75" y1="326.84" x2="433.75" y2="350.24" stroke="#1a1418" stroke-width="4.56" stroke-linecap="butt"/>
<line x1="434.45" y1="326.84" x2="434.45" y2="350.24" stroke="#463b42" stroke-width="1.37" stroke-linecap="butt"/>
<line x1="229.5" y1="445" x2="468.75" y2="308" stroke="#1a1418" stroke-width="4.56" stroke-linecap="butt"/>
<line x1="229.5" y1="445.8" x2="468.75" y2="308.8" stroke="#463b42" stroke-width="1.37" stroke-linecap="butt"/>
<line x1="229.5" y1="441.8" x2="229.5" y2="470.2" stroke="#1a1418" stroke-width="5.28" stroke-linecap="butt"/>
<line x1="230.2" y1="441.8" x2="230.2" y2="470.2" stroke="#463b42" stroke-width="1.58" stroke-linecap="butt"/>
<line x1="468.75" y1="304.8" x2="468.75" y2="333.2" stroke="#1a1418" stroke-width="5.28" stroke-linecap="butt"/>
<line x1="469.45" y1="304.8" x2="469.45" y2="333.2" stroke="#463b42" stroke-width="1.58" stroke-linecap="butt"/>
<circle cx="226.2" cy="445.3" r="1.7" fill="#1a1418"/>
<circle cx="226.2" cy="466.3" r="1.7" fill="#1a1418"/>
<circle cx="465.5" cy="304" r="1.5" fill="#1a1418"/>
<circle cx="465.5" cy="329" r="1.5" fill="#1a1418"/>
</g>
<circle cx="260.4" cy="336" r="25.8" fill="none" stroke="#3866d6" stroke-width="2.8"/>
<text x="167.5" y="260.7" font-size="30" fill="#3866d6" stroke="#3866d6" stroke-width="0.8" stroke-linejoin="round" text-anchor="middle">B</text>
<text x="421" y="246.6" font-size="30.5" fill="#3866d6" stroke="#3866d6" stroke-width="0.8" stroke-linejoin="round" text-anchor="middle">A</text>
<text x="104.2" y="438.6" font-size="30.5" fill="#3866d6" stroke="#3866d6" stroke-width="0.8" stroke-linejoin="round" text-anchor="middle">A</text>
<text x="370.9" y="425.4" font-size="30" fill="#3866d6" stroke="#3866d6" stroke-width="0.8" stroke-linejoin="round" text-anchor="middle">B</text>
<g stroke="#241d21" stroke-width="1.9" stroke-linejoin="round">
<polygon points="20,786.25 215.7,898.2 215.7,930.5 20,818.55" fill="#eeeeee"/>
<polygon points="215.7,898.2 471.2,750.8 471.2,783.1 215.7,930.5" fill="#c5b2cb"/>
<polygon points="20,786.25 275.5,638.3 471.2,750.8 215.7,898.2" fill="#fff"/>
</g>
<clipPath id="cut"><polygon points="365.2,699.7 454.1,750.5 390.6,787.3"/></clipPath>
<g clip-path="url(#cut)">
<rect x="360" y="695" width="100" height="100" fill="#fff"/>
<line x1="373" y1="702" x2="373" y2="727" stroke="#2c252a" stroke-width="4.8" stroke-linecap="butt"/>
<line x1="373" y1="702" x2="373" y2="727" stroke="#7d777d" stroke-width="1.4" stroke-linecap="butt"/>
<line x1="421.2" y1="733" x2="421.2" y2="756" stroke="#2c252a" stroke-width="4.8" stroke-linecap="butt"/>
<line x1="421.2" y1="733" x2="421.2" y2="756" stroke="#7d777d" stroke-width="1.4" stroke-linecap="butt"/>
<line x1="366" y1="711.5" x2="450" y2="759.5" stroke="#2c252a" stroke-width="5.2" stroke-linecap="butt"/>
<line x1="366" y1="711.5" x2="450" y2="759.5" stroke="#7d777d" stroke-width="1.56" stroke-linecap="butt"/>
<line x1="374" y1="726.5" x2="444" y2="766.5" stroke="#2c252a" stroke-width="5.2" stroke-linecap="butt"/>
<line x1="374" y1="726.5" x2="444" y2="766.5" stroke="#7d777d" stroke-width="1.56" stroke-linecap="butt"/>
<line x1="378" y1="747.5" x2="426" y2="774.93" stroke="#2c252a" stroke-width="5.2" stroke-linecap="butt"/>
<line x1="378" y1="747.5" x2="426" y2="774.93" stroke="#7d777d" stroke-width="1.56" stroke-linecap="butt"/>
<polygon points="390.6,780.5 397.5,783.3 390.6,787.3" fill="#3a3338"/>
</g>
<polygon points="365.2,699.7 454.1,750.5 390.6,787.3" fill="none" stroke="#241d21" stroke-width="1.8" stroke-linejoin="miter"/>
<text x="98.2" y="912.1" font-size="31" fill="#3866d6" stroke="#3866d6" stroke-width="0.8" stroke-linejoin="round" text-anchor="middle">D</text>
<clipPath id="dc1"><circle cx="84.4" cy="189.7" r="63.6"/></clipPath>
<g clip-path="url(#dc1)"><g transform="translate(18,122) scale(0.130856)" stroke="#1d171b" stroke-width="7" stroke-linejoin="round">
<polygon points="295,790 405,740 405,1030 295,1030" fill="#9d9a99"/>
<polygon points="405,735 470,690 470,1030 405,1030" fill="#5a4a5a"/>
<polygon points="470,680 590,700 590,1030 470,1030" fill="#9d9a99"/>
<polygon points="590,720 645,710 645,1030 590,1030" fill="#5a4a5a"/>
<polygon points="600,590 965,800 860,880 640,760" fill="#8b8888"/>
<polygon points="20,270 95,290 225,370 225,470 20,385" fill="#8b8888"/>
<polygon points="225,372 355,440 355,465 290,485 225,470" fill="#b3afac"/>
<ellipse cx="250" cy="500" rx="48" ry="30" transform="rotate(-30 250 500)" fill="#2b2731" stroke="none"/>
<circle cx="232" cy="510" r="15" fill="#b5b5c0" stroke="none"/>
<circle cx="272" cy="470" r="15" fill="#b5b5c0" stroke="none"/>
<polygon points="130,240 1010,735 965,800 95,290 60,270 100,225" fill="#cbc7c2"/>
<polygon points="600,500 905,290 1010,420 1010,470 720,565" fill="#5a4a5a"/>
<polygon points="440,412 830,180 905,290 600,500" fill="#cbc7c2"/>
<line x1="905" y1="310" x2="745" y2="550" stroke="#1d171b" stroke-width="26" stroke-linecap="round"/>
<line x1="900" y1="318" x2="752" y2="540" stroke="#4c4450" stroke-width="9" stroke-linecap="round"/>
<polygon points="100,745 490,530 490,700 120,900 60,800" fill="#5a4a5a"/>
<polygon points="20,645 350,450 490,530 100,745 20,760" fill="#cbc7c2"/>
<polygon points="310,338 350,330 735,550 715,585 640,560 300,365" fill="#d3cfca"/>
<polyline points="455,462 478,475 470,500" fill="none" stroke-width="6"/>
<line x1="350" y1="450" x2="640" y2="620" stroke-width="6"/>
<polygon points="560,690 650,680 650,740 600,750 560,720" fill="#a9a5a3"/>
<ellipse cx="550" cy="640" rx="56" ry="62" fill="#2b2731" stroke="none"/>
<path d="M588 618 L845 578 Q884 582 880 612 Q874 638 848 640 L600 690 Z" fill="#6f7384" stroke="#3c3c48" stroke-width="5"/>
<circle cx="508" cy="668" r="24" fill="#b5b5c2" stroke="#2b2731" stroke-width="6"/>
</g></g>
<circle cx="84.4" cy="189.7" r="63.5" fill="none" stroke="#3b65d3" stroke-width="3.3"/><clipPath id="dc2"><circle cx="610.4" cy="128.1" r="65.5"/></clipPath>
<g clip-path="url(#dc2)"><g transform="translate(542,60) scale(0.132813)" stroke="#1d171b" stroke-width="7" stroke-linejoin="round">
<polygon points="370,440 430,480 430,1040 310,1040 310,590 360,560" fill="#9d9a99"/>
<polygon points="430,480 530,430 540,640 540,1040 430,1040" fill="#5a4a5a"/>
<polygon points="0,640 360,450 360,565 170,670 95,640 95,760 0,760" fill="#5a4a5a"/>
<polygon points="95,640 175,668 175,745 140,778 95,755" fill="#9d9a99"/>
<polygon points="0,690 95,740 140,778 120,800 0,760" fill="#c9c5c0"/>
<polygon points="0,580 325,400 375,440 40,628 0,640" fill="#cbc7c2"/>
<polygon points="620,590 945,715 900,800 620,665" fill="#8b8888"/>
<polygon points="500,445 545,425 1000,672 960,722 600,545" fill="#cbc7c2"/>
<polygon points="475,455 530,430 600,545 600,640 540,640 475,600" fill="#a8a4a2"/>
<path d="M325 400 Q372 374 425 380 Q500 382 532 412 L530 432 L440 482 L370 440 Z" fill="#cbc7c2"/>
<path d="M340 418 Q380 396 425 398 Q490 400 515 425 L440 468 Z" fill="#d8d4cf" stroke="none"/>
<polyline points="880,275 735,480 695,498" fill="none" stroke="#15121a" stroke-width="26" stroke-linecap="round"/>
<polygon points="585,545 640,575 640,672 590,650" fill="#2f2a33"/>
<ellipse cx="548" cy="578" rx="46" ry="62" fill="#2b2731" stroke="none"/>
<path d="M585 548 L790 486 Q828 486 826 515 Q822 540 798 545 L600 610 Z" fill="#6f7384" stroke="#3c3c48" stroke-width="5"/>
<circle cx="512" cy="600" r="24" fill="#8e8ea2" stroke="#2b2731" stroke-width="6"/>
</g></g>
<circle cx="610.4" cy="128.1" r="65.4" fill="none" stroke="#3b65d3" stroke-width="3.4"/><clipPath id="dc4"><circle cx="425" cy="884" r="47.8"/></clipPath>
<g clip-path="url(#dc4)"><g transform="translate(374,833) scale(0.099609)" stroke="#161215" stroke-width="9" stroke-linejoin="round">
<polygon points="0,548 750,115 1000,270 1000,240 110,745 0,800" fill="#5d4d5c" stroke="none"/>
<polygon points="0,540 750,115 1000,262 110,748 0,800" fill="#5d4d5c"/>
<polygon points="0,415 620,65 750,115 0,545" fill="#cbc7c2"/>
<g stroke-width="19">
<polygon points="525,345 660,410 688,445 688,605 525,520" fill="#9a9898"/>
<polygon points="525,520 688,605 535,695 525,690" fill="#c9c6c3"/>
<polygon points="375,430 500,500 525,530 525,690 400,620 375,585" fill="#9a9898"/>
</g>
<line x1="530" y1="525" x2="680" y2="600" stroke="#55505a" stroke-width="5" stroke-dasharray="10 8"/>
<path d="M735 352 V598" stroke="#3b65d3" stroke-width="30" stroke-linecap="round" fill="none"/>
<path d="M735 338 L780 458 L738 440 Z" fill="#3b65d3" stroke="#3b65d3" stroke-width="6"/>
</g></g>
<circle cx="425" cy="884" r="47.75" fill="none" stroke="#3b65d3" stroke-width="2.8"/>
</svg>
</body></html>
